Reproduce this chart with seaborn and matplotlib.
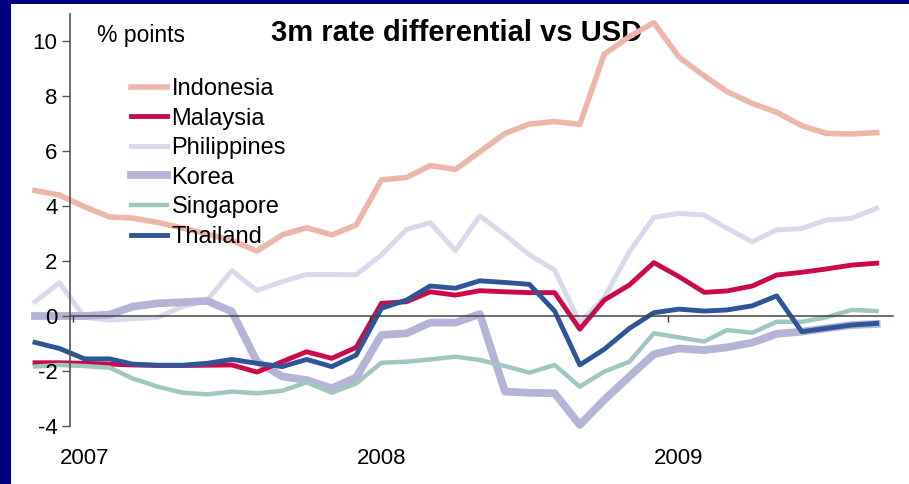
import numpy as np
import pandas as pd
import matplotlib
matplotlib.use("Agg")
import matplotlib.pyplot as plt
import matplotlib.dates as mdates
import matplotlib.transforms as mtransforms
from matplotlib.patches import Rectangle
import seaborn as sns

plt.rcParams['font.family'] = ['Liberation Sans', 'DejaVu Sans']

# ---------------- data (monthly, Nov 2006 - Sep 2009) ----------------
dates = pd.date_range('2006-11-01', periods=35, freq='MS') + pd.Timedelta(days=14)

indonesia = [4.56, 4.40, 3.97, 3.60, 3.56, 3.40, 3.20, 2.98, 2.75, 2.36, 2.95, 3.21,
             2.95, 3.31, 4.95, 5.04, 5.47, 5.33, 5.97, 6.64, 6.98, 7.07, 6.97, 9.52,
             10.16, 10.67, 9.41, 8.73, 8.16, 7.73, 7.41, 6.92, 6.64, 6.62, 6.67]
malaysia = [-1.70, -1.70, -1.72, -1.75, -1.78, -1.80, -1.80, -1.79, -1.78, -2.04, -1.66, -1.30,
            -1.54, -1.14, 0.46, 0.52, 0.88, 0.76, 0.92, 0.88, 0.85, 0.85, -0.48, 0.58,
            1.13, 1.94, 1.43, 0.86, 0.91, 1.09, 1.49, 1.59, 1.71, 1.85, 1.92]
philippines = [0.52, 1.21, -0.05, -0.15, -0.10, -0.05, 0.34, 0.58, 1.65, 0.93, 1.25, 1.51,
               1.51, 1.50, 2.22, 3.15, 3.39, 2.38, 3.64, 2.95, 2.22, 1.67, -0.25, 0.67,
               2.34, 3.59, 3.73, 3.67, 3.19, 2.70, 3.13, 3.18, 3.49, 3.55, 3.92]
korea = [0.00, 0.00, 0.00, 0.05, 0.34, 0.46, 0.50, 0.55, 0.16, -1.66, -2.20, -2.33,
         -2.63, -2.23, -0.69, -0.63, -0.24, -0.24, 0.07, -2.75, -2.79, -2.81, -3.96, -3.05,
         -2.20, -1.39, -1.18, -1.24, -1.14, -0.97, -0.65, -0.57, -0.45, -0.33, -0.29]
singapore = [-1.84, -1.78, -1.82, -1.88, -2.27, -2.57, -2.79, -2.85, -2.75, -2.81, -2.72, -2.41,
             -2.79, -2.45, -1.70, -1.66, -1.58, -1.48, -1.60, -1.82, -2.06, -1.78, -2.57, -2.02,
             -1.66, -0.63, -0.78, -0.93, -0.51, -0.61, -0.21, -0.21, -0.05, 0.22, 0.18]
thailand = [-0.96, -1.18, -1.56, -1.56, -1.75, -1.79, -1.79, -1.72, -1.58, -1.72, -1.84, -1.58,
            -1.84, -1.42, 0.28, 0.58, 1.09, 1.01, 1.28, 1.22, 1.15, 0.18, -1.78, -1.21,
            -0.45, 0.12, 0.25, 0.18, 0.22, 0.37, 0.73, -0.57, -0.45, -0.33, -0.27]

series_names = ['Indonesia', 'Malaysia', 'Philippines', 'Korea', 'Singapore', 'Thailand']
series_values = [indonesia, malaysia, philippines, korea, singapore, thailand]
series_colors = ['#EDB6AB', '#CC0A4B', '#D9D9EB', '#B4B4D6', '#A0C6C2', '#2E5597']
series_widths = [4.0, 3.5, 3.6, 5.6, 3.2, 3.5]
series_z = [2.0, 2.3, 2.1, 2.2, 2.4, 2.5]

year_labels = ['2007', '2008', '2009']
y_ticks = [-4, -2, 0, 2, 4, 6, 8, 10]

# ---------------- figure ----------------
W, H = 909, 484
fig = plt.figure(figsize=(W / 100, H / 100), dpi=100)
fig.patch.set_facecolor('#000080')
bg = Rectangle((11 / W, 0), 1 - 11 / W, 1 - 4 / H,
               transform=fig.transFigure, facecolor='white',
               edgecolor='none', zorder=-10)
fig.patches.append(bg)

left_px, right_px = 23.6, 892.9
top_px, bottom_px = 8.0, 439.75
ax = fig.add_axes([left_px / W, 1 - bottom_px / H,
                   (right_px - left_px) / W, (bottom_px - top_px) / H])
ax.set_zorder(5)
ax.patch.set_alpha(0)
ax.set_axisbelow(False)

df = pd.DataFrame({'date': dates})
for name, vals, col, lw, z in zip(series_names, series_values, series_colors,
                                  series_widths, series_z):
    df[name] = vals
    sns.lineplot(data=df, x='date', y=name, color=col, linewidth=lw,
                 label=name, ax=ax, zorder=z)

x_left = mdates.date2num(pd.Timestamp('2006-11-01'))
x_right = mdates.date2num(pd.Timestamp('2009-10-05'))
ax.set_xlim(x_left, x_right)
ax.set_ylim(-4.5, 11.2)

yaxis_x = mdates.date2num(pd.Timestamp('2006-12-28'))
ax.spines['left'].set_position(('data', yaxis_x))
ax.spines['left'].set_bounds(-4, 11)
ax.spines['left'].set_color('#555555')
ax.spines['left'].set_linewidth(1.2)
ax.spines['bottom'].set_position(('data', 0))
ax.spines['bottom'].set_bounds(yaxis_x, x_right)
ax.spines['bottom'].set_color('#444444')
ax.spines['bottom'].set_linewidth(1.1)
ax.spines['top'].set_visible(False)
ax.spines['right'].set_visible(False)

ax.set_yticks(y_ticks)
ax.set_yticklabels([str(v) for v in y_ticks])
ax.tick_params(axis='y', direction='out', length=5.5, width=1.0, color='#555555',
               labelsize=16, pad=3.5, labelcolor='black')

year_ticks = [mdates.date2num(pd.Timestamp(f'{y}-01-01')) for y in year_labels]
ax.set_xticks(year_ticks)
ax.set_xticklabels([])
ax.tick_params(axis='x', direction='out', length=4, width=1.0, color='#333333')
ax.set_xlabel('')
ax.set_ylabel('')

trans = mtransforms.blended_transform_factory(ax.transData, ax.transAxes)
for lab in year_labels:
    xc = mdates.date2num(pd.Timestamp(f'{lab}-01-15'))
    ax.text(xc, (bottom_px - 458) / (bottom_px - top_px), lab, transform=trans,
            ha='center', va='center', fontsize=16, color='black')

leg = ax.legend(loc='upper left', bbox_to_anchor=(131 / W, 1 - 78 / H),
                bbox_transform=fig.transFigure, frameon=False, fontsize=17,
                handlelength=1.52, handletextpad=0.2, labelspacing=0.32,
                borderpad=0, borderaxespad=0)

fig.text(97 / W, 1 - 42 / H, '% points', fontsize=16.5, ha='left', va='baseline')
fig.text(457 / W, 1 - 41 / H, '3m rate differential vs USD', fontsize=21,
         fontweight='bold', ha='center', va='baseline')

fig.savefig('out.png', dpi=100, facecolor=fig.get_facecolor())
